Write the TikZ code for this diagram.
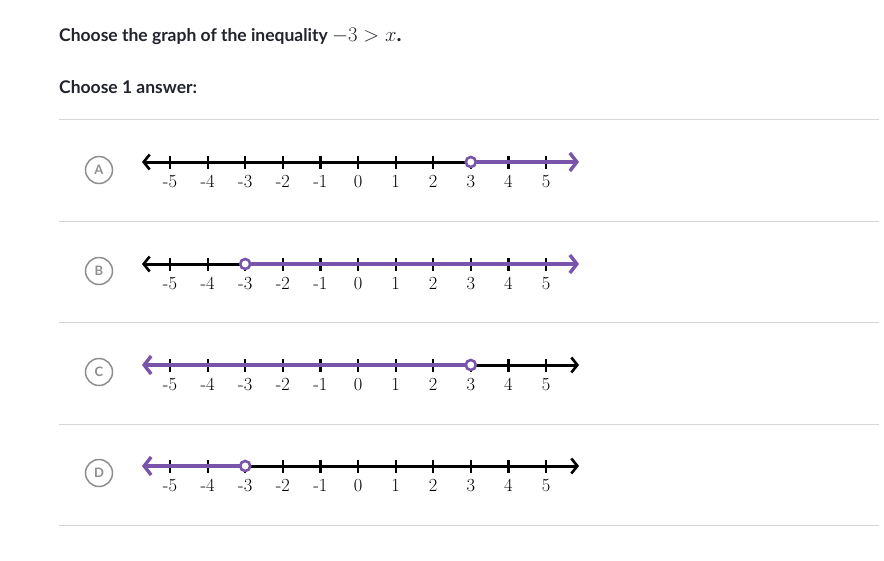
\documentclass[tikz,border=0pt]{standalone}
\usepackage{fontspec}
\newfontfamily\lato{Lato}
\usetikzlibrary{arrows.meta}
\definecolor{kpurple}{HTML}{7854AB}
\definecolor{ktext}{HTML}{21242C}
\definecolor{krule}{HTML}{D6D6D6}
\definecolor{kgray}{HTML}{8E8E8E}
\tikzset{
  blackline/.style={line width=3pt, black},
  purpline/.style={line width=4.6pt, kpurple},
  btip/.style={-{Straight Barb[length=6pt,width=15pt,line width=2.6pt]}},
  ptip/.style={-{Straight Barb[length=7pt,width=18pt,line width=3.4pt]}},
  tickmark/.style={line width=2.2pt, black},
  numlab/.style={font=\fontsize{18.5}{22}\selectfont, inner sep=0pt},
  opendot/.style={circle, draw=kpurple, fill=white, line width=2.6pt, minimum size=10pt, inner sep=0pt},
  choicecirc/.style={circle, draw=kgray, line width=1.5pt, minimum size=27pt, inner sep=0pt, text=kgray, font=\lato\bfseries\fontsize{13}{15}\selectfont},
  hrule/.style={krule, line width=0.9pt},
  qtext/.style={anchor=west, inner sep=0pt, text=ktext, font=\lato\bfseries\fontsize{17.5}{21}\selectfont}
}
\begin{document}
\begin{tikzpicture}[x=1pt,y=-1pt]
\useasboundingbox[fill=white] (0,0) rectangle (884,560);
\node[qtext] (title) at (59,36) {Choose the graph of the inequality {\fontsize{21}{24}\selectfont$-3 > x$.}};
\node[qtext] (choose) at (59,87) {Choose 1 answer:};
\foreach \yy [count=\i] in {119,221,322,424,525} {
  \coordinate (rl\i) at (59,\yy);
  \coordinate (rr\i) at (879,\yy);
  \draw[hrule] (rl\i) -- (rr\i);
}
% choice circles
\node[choicecirc] (ca) at (99,170) {A};
\node[choicecirc] (cb) at (99,271) {B};
\node[choicecirc] (cc) at (99,372) {C};
\node[choicecirc] (cd) at (99,473) {D};
% number lines
\foreach \row/\yy in {a/162,b/264,c/365,d/466} {
  \coordinate (\row L) at (142,\yy);
  \coordinate (\row R) at (579,\yy);
  \foreach \n [count=\k] in {-5,-4,-3,-2,-1,0,1,2,3,4,5} {
    \coordinate (\row t\k) at ({170+(\k-1)*37.6},\yy);
    \draw[tickmark] ([yshift=-6.5pt]\row t\k) -- ([yshift=6.5pt]\row t\k);
    \node[numlab, anchor=north] (\row n\k) at ([yshift=-13pt]\row t\k) {\n};
  }
}
% A: x > 3
\draw[blackline, btip] (at9) -- (aL);
\draw[purpline, ptip] (at9) -- (aR);
\node[opendot] (da) at (at9) {};
% B: x > -3
\draw[blackline, btip] (bt3) -- (bL);
\draw[purpline, ptip] (bt3) -- (bR);
\node[opendot] (db) at (bt3) {};
% C: x < 3
\draw[blackline, btip] (ct9) -- (cR);
\draw[purpline, ptip] (ct9) -- (cL);
\node[opendot] (dc) at (ct9) {};
% D: x < -3
\draw[blackline, btip] (dt3) -- (dR);
\draw[purpline, ptip] (dt3) -- (dL);
\node[opendot] (dd) at (dt3) {};
\end{tikzpicture}
\end{document}
